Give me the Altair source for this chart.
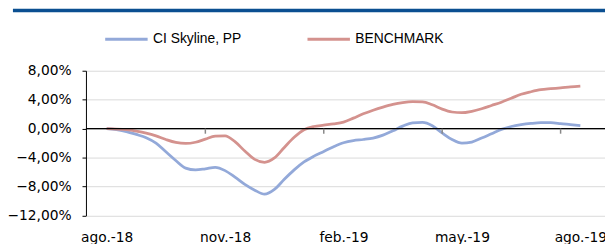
import altair as alt
import pandas as pd

# month index (0 = ago.-18, 12 = ago.-19), roughly weekly points
months = [i * 0.25 for i in range(49)]
skyline = [0, -0.15, -0.4, -0.8, -1.25, -2.0, -3.2, -4.4, -5.45, -5.7,
           -5.55, -5.35, -5.8, -6.7, -7.7, -8.5, -9.05, -8.4, -7.0, -5.7,
           -4.6, -3.8, -3.15, -2.5, -1.95, -1.65, -1.5, -1.3, -0.9, -0.3,
           0.35, 0.8, 0.85, 0.4, -0.6, -1.5, -2.0, -1.85, -1.3, -0.7,
           -0.1, 0.3, 0.55, 0.72, 0.82, 0.82, 0.7, 0.55, 0.41]
benchmark = [0, -0.05, -0.15, -0.35, -0.62, -1.0, -1.5, -1.9, -2.05, -1.88,
             -1.45, -1.05, -1.0, -1.8, -3.1, -4.25, -4.65, -4.05, -2.6, -1.2,
             -0.15, 0.3, 0.48, 0.65, 0.9, 1.45, 2.05, 2.55, 2.98, 3.35,
             3.6, 3.72, 3.7, 3.3, 2.7, 2.3, 2.2, 2.4, 2.75, 3.2,
             3.65, 4.2, 4.75, 5.1, 5.38, 5.52, 5.64, 5.78, 5.89]
series_names = ["CI Skyline, PP", "BENCHMARK"]
label_months = [0, 3, 6, 9, 12]
label_texts = ["ago.-18", "nov.-18", "feb.-19", "may.-19", "ago.-19"]
tick_months = [2.5, 5.5, 8.5, 11.5]
y_ticks = [8, 4, 0, -4, -8, -12]

rows = []
for m, a, b in zip(months, skyline, benchmark):
    rows.append({"m": m, "v": a, "s": series_names[0]})
    rows.append({"m": m, "v": b, "s": series_names[1]})
df = pd.DataFrame(rows)

label_map = dict(zip(label_months, label_texts))
label_expr = " : ".join(
    [f"datum.value == {k} ? '{v}'" for k, v in label_map.items()]) + " : ''"

FONT = "DejaVu Sans"
xscale = alt.Scale(domain=[-0.525, 12.625], nice=False, zero=False)
yscale = alt.Scale(domain=[-12, 8], nice=False, zero=False)

x_axis = alt.Axis(values=label_months, labelExpr=label_expr, title=None,
                  domain=False, ticks=False, grid=False,
                  labelFont=FONT, labelFontSize=14, labelColor="#000",
                  labelPadding=15, labelOverlap=False, labelFlush=False)
y_axis = alt.Axis(values=y_ticks, title=None,
                  labelExpr="replace(format(datum.value/100, '.2%'), '.', ',')",
                  domain=True, domainColor="#000", domainWidth=1,
                  ticks=True, tickSize=4, tickColor="#000",
                  grid=True, gridColor="#d9d9d9", gridWidth=1,
                  labelOverlap=False, labelFlush=False,
                  labelFont=FONT, labelFontSize=14, labelColor="#000",
                  labelPadding=11)

lines = alt.Chart(df).mark_line(interpolate="monotone", strokeWidth=2.8).encode(
    x=alt.X("m:Q", scale=xscale, axis=x_axis),
    y=alt.Y("v:Q", scale=yscale, axis=y_axis),
    color=alt.Color("s:N", sort=series_names,
                    scale=alt.Scale(domain=series_names, range=["#93a9d9", "#d4928e"]),
                    legend=alt.Legend(title=None, orient="none", direction="horizontal",
                                      legendX=18, legendY=-55, padding=0,
                                      symbolType="stroke", symbolSize=1849,
                                      symbolStrokeWidth=3, labelOffset=4,
                                      columnPadding=60,
                                      labelFont="Liberation Sans Narrow, Arial Narrow, Liberation Sans",
                                      labelFontSize=14, labelColor="#000")),
)

zero = alt.Chart(pd.DataFrame({"y": [0]})).mark_rule(color="#000", strokeWidth=1.2).encode(
    y=alt.Y("y:Q", scale=yscale, axis=y_axis))

ticks_df = pd.DataFrame({"m": tick_months, "y0": [0] * 4, "y1": [-0.7] * 4})
ticks = alt.Chart(ticks_df).mark_rule(color="#888", strokeWidth=1.5).encode(
    x=alt.X("m:Q", scale=xscale, axis=x_axis),
    y=alt.Y("y0:Q", scale=yscale, axis=y_axis), y2="y1:Q")

band = alt.Chart(pd.DataFrame({"k": [0]})).mark_rule(color="#0b4f91", strokeWidth=3.5).encode(
    x=alt.value(-74), x2=alt.value(526), y=alt.value(-61))

chart = alt.layer(lines, zero, ticks, band).properties(
    width=526, height=146.7,
    padding={"left": 79, "top": 62, "right": 0, "bottom": 28},
    autosize=alt.AutoSizeParams(type="none"),
).configure_view(stroke=None, clip=False)

chart.save("out.html", embed_options={"renderer": "svg", "actions": False})
